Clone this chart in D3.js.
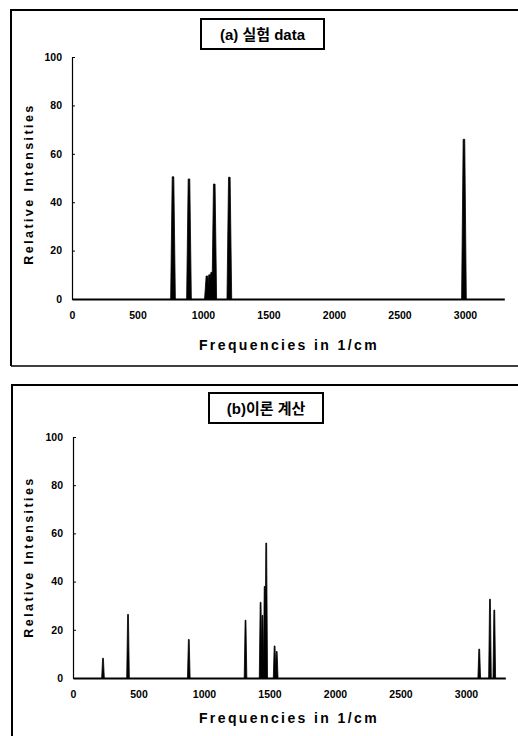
<!DOCTYPE html>
<html><head><meta charset="utf-8">
<script src="https://cdn.jsdelivr.net/npm/d3@7"></script>
<style>
html,body{margin:0;padding:0;background:#fff;}
svg{display:block;}
text{font-family:"Liberation Sans",Arial,sans-serif;font-weight:bold;fill:#000;}
</style></head>
<body>
<svg id="c" width="518" height="736"></svg>
<script>
// ---- data ----
const titleA = "(a) 실험 data";
const titleB = "(b)이론 계산";
const xTicks = [0, 500, 1000, 1500, 2000, 2500, 3000];
const yTicks = [0, 20, 40, 60, 80, 100];
const xLabel = "Frequencies in 1/cm";
const yLabel = "Relative Intensities";
// panel (a) experimental peaks
const freqA = [771, 893, 1030, 1050, 1066, 1086, 1201, 2992];
const intA  = [50.5, 49.6, 9.5, 10, 11, 47.5, 50.3, 66];
// panel (b) calculated peaks
const freqB = [229, 420, 884, 1317, 1432, 1446, 1463, 1475, 1539, 1555, 3101, 3183, 3216];
const intB  = [8.2, 26.4, 16, 24, 31.4, 26, 38, 56, 13.3, 11, 12, 32.7, 28.2];

const svg = d3.select("#c");

// frames
svg.append("path").attr("d","M11,366 L11,10 L518,10").attr("fill","none").attr("stroke","#000").attr("stroke-width",2);
svg.append("path").attr("d","M11,366 L518,366").attr("fill","none").attr("stroke","#000").attr("stroke-width",1.5);
svg.append("path").attr("d","M12,736 L12,385 L518,385").attr("fill","none").attr("stroke","#000").attr("stroke-width",2);

function panel(cfg){
  const x = d3.scaleLinear().domain([0,3300]).range([cfg.x0, cfg.x0 + 65.5*6.6]);
  const y = d3.scaleLinear().domain([0,100]).range([cfg.yBase, cfg.yTop]);
  const g = svg.append("g");

  // title box
  const tb = g.append("g");
  tb.append("rect").attr("x",cfg.box[0]).attr("y",cfg.box[1]).attr("width",cfg.box[2]).attr("height",cfg.box[3])
    .attr("fill","none").attr("stroke","#000").attr("stroke-width",2);
  tb.append("text").attr("x",cfg.box[0]+cfg.box[2]/2).attr("y",cfg.box[1]+cfg.box[3]/2+5.5)
    .attr("text-anchor","middle").attr("font-size",15)
    .style("font-family","'Liberation Sans','Noto Sans CJK KR',sans-serif").text(cfg.title);

  // y axis
  const ya = g.append("g").attr("transform",`translate(${cfg.x0},0)`)
    .call(d3.axisLeft(y).tickValues(yTicks).tickFormat(d3.format("d")).tickSizeInner(-3).tickSizeOuter(0).tickPadding(10));
  ya.select(".domain").attr("stroke-width",1.2);
  ya.selectAll("text").attr("font-size",10.5).attr("font-family","'Liberation Sans',Arial,sans-serif").attr("font-weight","bold");

  // x axis
  const xa = g.append("g").attr("transform",`translate(0,${cfg.yBase})`)
    .call(d3.axisBottom(x).tickValues(xTicks).tickFormat(d3.format("d")).tickSize(0).tickPadding(13));
  xa.select(".domain").attr("stroke-width",2.2);
  xa.selectAll("text").attr("font-size",10.5).attr("font-family","'Liberation Sans',Arial,sans-serif").attr("font-weight","bold");

  // peaks
  const w = cfg.w, wt = cfg.wt;
  const pk = d3.range(cfg.freq.length).map(i => ({f: cfg.freq[i], v: cfg.int[i]}));
  g.selectAll("path.pk").data(pk).join("path").attr("class","pk")
    .attr("d", d => `M${x(d.f-w)},${y(0)} L${x(d.f-wt)},${y(d.v)} L${x(d.f+wt)},${y(d.v)} L${x(d.f+w)},${y(0)} Z`)
    .attr("fill","#000").attr("stroke","#000").attr("stroke-width",0.8);

  // axis titles
  g.append("text").attr("x",cfg.xlx).attr("y",cfg.xly).attr("text-anchor","middle")
    .attr("font-size",14).style("letter-spacing","2.4px").text(xLabel);
  g.append("text").attr("transform",`translate(${cfg.ylx},${cfg.yly}) rotate(-90)`).attr("text-anchor","middle")
    .attr("font-size",12.5).style("letter-spacing","2.4px").text(yLabel);
}

panel({x0:72, yBase:299, yTop:57, box:[201,19,123,30], title:titleA,
       freq:freqA, int:intA, w:18, wt:6, xlx:289, xly:350, ylx:33, yly:184});
panel({x0:73, yBase:678, yTop:437, box:[209,393,114,30], title:titleB,
       freq:freqB, int:intB, w:10, wt:3, xlx:289, xly:723, ylx:33, yly:557});
</script>
</body></html>
